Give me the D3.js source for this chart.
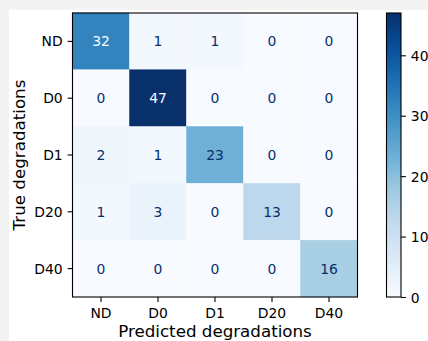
<!DOCTYPE html>
<html>
<head>
<meta charset="utf-8">
<script src="https://cdn.jsdelivr.net/npm/d3@7"></script>
<style>
  html, body { margin: 0; padding: 0; background: #f3f3f3; }
  svg { display: block; font-family: "DejaVu Sans", sans-serif; }
</style>
</head>
<body>
<svg id="chart" width="428" height="341"></svg>
<script>
// Confusion matrix: rows are true classes, columns are predicted classes
const predictedLabels = ["ND", "D0", "D1", "D20", "D40"];
const trueLabels = ["ND", "D0", "D1", "D20", "D40"];
const counts = [
  [32, 1, 1, 0, 0],
  [0, 47, 0, 0, 0],
  [2, 1, 23, 0, 0],
  [1, 3, 0, 13, 0],
  [0, 0, 0, 0, 16]
];
const colorbarTicks = [0, 10, 20, 30, 40];
const xTitle = "Predicted degradations";
const yTitle = "True degradations";

// ColorBrewer "Blues", interpolated piecewise-linearly
const bluesStops = ["#f7fbff", "#deebf7", "#c6dbef", "#9ecae1", "#6baed6",
                    "#4292c6", "#2171b5", "#08519c", "#08306b"];

const svg = d3.select("#chart");
const W = 428, H = 341;

// figure background
svg.append("rect").attr("x", 0).attr("y", 0).attr("width", W).attr("height", H).attr("fill", "#f3f3f3");
svg.append("rect").attr("x", 9).attr("y", 10).attr("width", W - 9).attr("height", H - 10).attr("fill", "#ffffff");

const plot = { left: 72.5, right: 357.5, top: 13, bottom: 297 };

const x = d3.scaleBand().domain(predictedLabels).range([plot.left, plot.right]).padding(0);
const y = d3.scaleBand().domain(trueLabels).range([plot.top, plot.bottom]).padding(0);

const allVals = counts.flat();
const vmin = d3.min(allVals), vmax = d3.max(allVals);
const color = d3.scaleLinear()
  .domain(bluesStops.map((_, i) => vmin + (vmax - vmin) * i / (bluesStops.length - 1)))
  .range(bluesStops)
  .interpolate(d3.interpolateRgb)
  .clamp(true);

const cells = [];
counts.forEach((row, i) => row.forEach((v, j) => cells.push({ t: trueLabels[i], p: predictedLabels[j], v })));

// cells
svg.append("g").selectAll("rect").data(cells).join("rect")
  .attr("x", d => x(d.p))
  .attr("y", d => y(d.t))
  .attr("width", x.bandwidth())
  .attr("height", y.bandwidth())
  .attr("fill", d => color(d.v))
  .attr("stroke", d => color(d.v))
  .attr("stroke-width", 0.5);

// cell counts
const thresh = (vmin + vmax) / 2;
svg.append("g").selectAll("text").data(cells).join("text")
  .attr("x", d => x(d.p) + x.bandwidth() / 2)
  .attr("y", d => y(d.t) + y.bandwidth() / 2 + 5.05)
  .attr("text-anchor", "middle")
  .attr("font-size", "13.9px")
  .attr("fill", d => d.v > thresh ? "#f7fbff" : "#08306b")
  .text(d => d.v);

// axes
const xAxis = d3.axisBottom(x).tickSize(4.9).tickPadding(4.9);
const gx = svg.append("g").attr("transform", `translate(0,${plot.bottom})`).call(xAxis);
const yAxis = d3.axisLeft(y).tickSize(4.9).tickPadding(4.9);
const gy = svg.append("g").attr("transform", `translate(${plot.left},0)`).call(yAxis);

[gx, gy].forEach(g => {
  g.select(".domain").remove();
  g.selectAll(".tick line").attr("stroke", "#000").attr("stroke-width", 1.1);
  g.selectAll(".tick text").attr("fill", "#000").attr("font-size", "13.9px")
    .attr("font-family", "DejaVu Sans, sans-serif");
});
gx.selectAll(".tick text").attr("dy", null).attr("y", 4.9 + 4.9 + 11.6);
gy.selectAll(".tick text").attr("dy", null).attr("y", 5.05);

// frame
svg.append("rect")
  .attr("x", plot.left).attr("y", plot.top)
  .attr("width", plot.right - plot.left).attr("height", plot.bottom - plot.top)
  .attr("fill", "none").attr("stroke", "#000").attr("stroke-width", 1.1);

// axis titles
svg.append("text")
  .attr("x", (plot.left + plot.right) / 2).attr("y", 336.8)
  .attr("text-anchor", "middle").attr("font-size", "16.7px").attr("fill", "#000")
  .text(xTitle);
svg.append("text")
  .attr("transform", `translate(24.5,${(plot.top + plot.bottom) / 2}) rotate(-90)`)
  .attr("text-anchor", "middle").attr("font-size", "16.7px").attr("fill", "#000")
  .text(yTitle);

// colorbar
const cb = { left: 386.5, right: 401, top: plot.top, bottom: plot.bottom };
const cbScale = d3.scaleLinear().domain([vmin, vmax]).range([cb.bottom, cb.top]);

const defs = svg.append("defs");
const grad = defs.append("linearGradient").attr("id", "cbGrad")
  .attr("x1", 0).attr("y1", 1).attr("x2", 0).attr("y2", 0);
d3.range(0, 1.0001, 1 / 64).forEach(f => {
  grad.append("stop").attr("offset", f).attr("stop-color", color(vmin + f * (vmax - vmin)));
});
svg.append("rect")
  .attr("x", cb.left).attr("y", cb.top)
  .attr("width", cb.right - cb.left).attr("height", cb.bottom - cb.top)
  .attr("fill", "url(#cbGrad)")
  .attr("stroke", "#000").attr("stroke-width", 1.1);

const cbAxis = d3.axisRight(cbScale).tickValues(colorbarTicks).tickSize(4.9).tickPadding(4.9);
const gcb = svg.append("g").attr("transform", `translate(${cb.right},0)`).call(cbAxis);
gcb.select(".domain").remove();
gcb.selectAll(".tick line").attr("stroke", "#000").attr("stroke-width", 1.1);
gcb.selectAll(".tick text").attr("fill", "#000").attr("font-size", "13.9px")
  .attr("font-family", "DejaVu Sans, sans-serif")
  .attr("dy", null).attr("y", 5.05);
</script>
</body>
</html>
